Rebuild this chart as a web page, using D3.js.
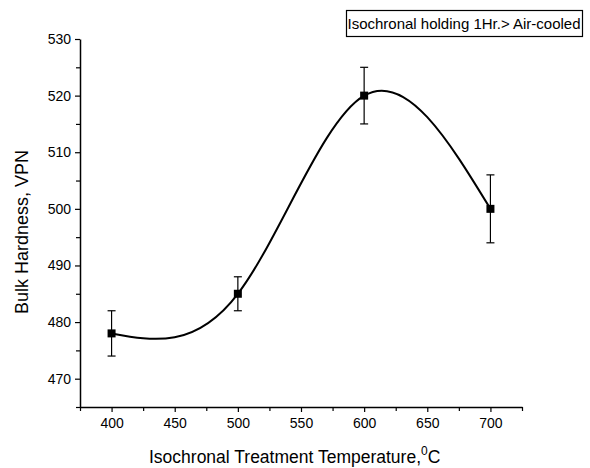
<!DOCTYPE html>
<html>
<head>
<meta charset="utf-8">
<script src="https://cdn.jsdelivr.net/npm/d3@7"></script>
<style>
  body { margin: 0; background: #fff; }
  text { font-family: "Liberation Sans", Arial, sans-serif; fill: #000; }
</style>
</head>
<body>
<div id="chart"></div>
<script>
// data
const temps    = [400, 500, 600, 700];
const hardness = [478, 485, 520, 500];
const errLow   = [474, 482, 515, 494];
const errHigh  = [482, 488, 525, 506];
const xTicks   = [400, 450, 500, 550, 600, 650, 700];
const yTicks   = [470, 480, 490, 500, 510, 520, 530];

const W = 590, H = 468;
const margin = {top: 39, right: 68, bottom: 61, left: 80};
const width = W - margin.left - margin.right;
const height = H - margin.top - margin.bottom;

const svg = d3.select("#chart").append("svg")
    .attr("width", W)
    .attr("height", H);

const g = svg.append("g")
    .attr("transform", "translate(" + margin.left + "," + margin.top + ")");

const x = d3.scaleLinear().domain([375, 725]).range([0, width]);
const y = d3.scaleLinear().domain([465, 530]).range([height, 0]);

// minor ticks
const xMinor = d3.range(375, 726, 25).filter(v => xTicks.indexOf(v) < 0);
const yMinor = d3.range(465, 531, 5).filter(v => yTicks.indexOf(v) < 0);

g.append("g")
    .attr("transform", "translate(0," + height + ")")
    .call(d3.axisBottom(x).tickValues(xTicks).tickSize(5).tickPadding(6).tickSizeOuter(0));
g.append("g")
    .attr("transform", "translate(0," + height + ")")
    .call(d3.axisBottom(x).tickValues(xMinor).tickSize(4).tickFormat("").tickSizeOuter(0))
    .select(".domain").remove();

g.append("g")
    .call(d3.axisLeft(y).tickValues(yTicks).tickSize(5).tickPadding(4).tickSizeOuter(0));
g.append("g")
    .call(d3.axisLeft(y).tickValues(yMinor).tickSize(4).tickFormat("").tickSizeOuter(0))
    .select(".domain").remove();

g.selectAll(".domain").attr("stroke", "#000").attr("stroke-width", 1.5);
g.selectAll(".tick line").attr("stroke", "#000").attr("stroke-width", 1.2);
g.selectAll(".tick text")
    .style("font-family", "'Liberation Sans', Arial, sans-serif")
    .style("font-size", "14px");

// smooth curve through points
const pts = temps.map((t, i) => ({t: t, v: hardness[i], lo: errLow[i], hi: errHigh[i]}));
const line = d3.line()
    .curve(d3.curveNatural)
    .x(d => x(d.t))
    .y(d => y(d.v));

g.append("path")
    .datum(pts)
    .attr("d", line)
    .attr("fill", "none")
    .attr("stroke", "#000")
    .attr("stroke-width", 2);

// error bars
const eb = g.selectAll(".err").data(pts).enter().append("g").attr("class", "err");
eb.append("line")
    .attr("x1", d => x(d.t)).attr("x2", d => x(d.t))
    .attr("y1", d => y(d.lo)).attr("y2", d => y(d.hi))
    .attr("stroke", "#000").attr("stroke-width", 1.2);
eb.selectAll(".cap").data(d => [{t: d.t, v: d.lo}, {t: d.t, v: d.hi}]).enter().append("line")
    .attr("x1", d => x(d.t) - 4).attr("x2", d => x(d.t) + 4)
    .attr("y1", d => y(d.v)).attr("y2", d => y(d.v))
    .attr("stroke", "#000").attr("stroke-width", 1.2);

// square markers
g.selectAll(".pt").data(pts).enter().append("rect")
    .attr("x", d => x(d.t) - 4)
    .attr("y", d => y(d.v) - 4)
    .attr("width", 8).attr("height", 8)
    .attr("fill", "#000");

// axis titles
svg.append("text")
    .attr("transform", "translate(28,232) rotate(-90)")
    .attr("text-anchor", "middle")
    .style("font-size", "18px")
    .text("Bulk Hardness, VPN");

const xt = svg.append("text")
    .attr("x", margin.left + x(545))
    .attr("y", 463)
    .attr("text-anchor", "middle")
    .style("font-size", "17.5px");
xt.append("tspan").text("Isochronal Treatment Temperature,");
xt.append("tspan").attr("dy", -8).style("font-size", "12px").text("0");
xt.append("tspan").attr("dy", 8).text("C");

// annotation box
svg.append("rect")
    .attr("x", 346.5).attr("y", 10.5)
    .attr("width", 236).attr("height", 26)
    .attr("fill", "#fff").attr("stroke", "#000").attr("stroke-width", 1.2);
svg.append("text")
    .attr("x", 464).attr("y", 29)
    .attr("text-anchor", "middle")
    .style("font-size", "15px")
    .text("Isochronal holding 1Hr.> Air-cooled");
</script>
</body>
</html>
